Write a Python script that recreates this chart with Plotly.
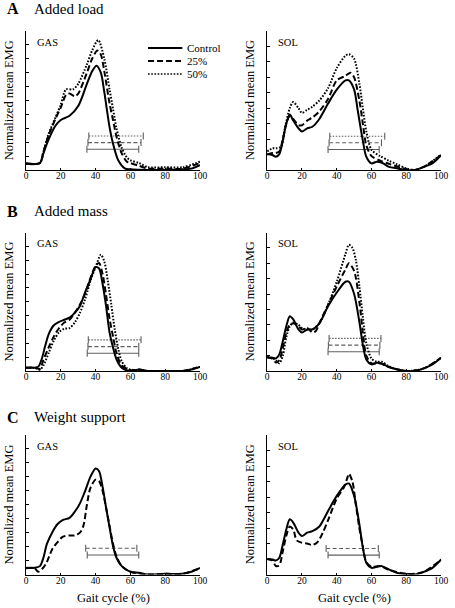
import plotly.graph_objects as go

# ---------------- data ----------------
X_TICKS = [0, 20, 40, 60, 80, 100]
CONDITIONS = ["Control", "25%", "50%"]
PANEL_TITLES = [("A", "Added load"), ("B", "Added mass"), ("C", "Weight support")]
MUSCLES = ["GAS", "SOL"]

# A - Added load, GAS
A_GAS_CTRL_X = [0, 5, 8, 10, 13, 17, 20, 25, 30, 35, 38, 40.5, 43, 45, 48, 50, 53, 57, 60, 70, 80, 90, 95, 100]
A_GAS_CTRL_Y = [0.48, 0.43, 0.5, 1.2, 2.2, 3.2, 3.6, 3.9, 4.6, 6.2, 7.1, 7.5, 7.0, 5.6, 3.1, 1.9, 0.7, 0.1, 0.05, 0, 0, 0.05, 0.1, 0.35]
A_GAS_25_X = [0, 8, 10, 13, 17, 20, 23, 25, 28, 30, 35, 38, 41, 43, 45, 48, 50, 52, 55, 58, 60, 65, 70, 80, 90, 100]
A_GAS_25_Y = [0.45, 0.5, 1.3, 2.5, 3.7, 4.5, 5.4, 5.5, 5.3, 5.5, 7.0, 8.0, 8.6, 8.3, 7.1, 4.8, 3.6, 2.4, 1.2, 0.6, 0.5, 0.3, 0.1, 0.1, 0.1, 0.5]
A_GAS_50_X = [0, 8, 10, 13, 17, 20, 23, 27, 30, 35, 38, 41.5, 45, 48, 50, 52, 55, 58, 60, 65, 70, 80, 90, 100]
A_GAS_50_Y = [0.45, 0.5, 1.3, 2.6, 3.8, 4.7, 5.8, 5.8, 6.2, 7.6, 8.6, 9.35, 8.0, 5.8, 4.4, 3.0, 1.6, 0.9, 0.7, 0.5, 0.2, 0.2, 0.2, 0.6]

# A - Added load, SOL
A_SOL_CTRL_X = [0, 3, 5, 7, 9, 11, 13, 15, 18, 20, 23, 26, 30, 35, 40, 45, 47, 50, 52, 55, 57, 60, 63, 66, 70, 75, 80, 85, 90, 95, 100]
A_SOL_CTRL_Y = [1.03, 0.97, 0.86, 1.03, 1.9, 3.0, 3.6, 3.2, 2.7, 2.5, 2.7, 2.8, 3.3, 4.3, 5.2, 5.8, 5.8, 5.2, 3.9, 1.9, 0.86, 0.43, 0.54, 0.47, 0.2, 0.1, 0, 0, 0.2, 0.43, 0.97]
A_SOL_25_X = [0, 3, 5, 7, 9, 11, 13, 15, 18, 20, 23, 26, 30, 35, 40, 45, 48, 50, 53, 55, 57, 60, 65, 70, 80, 85, 90, 100]
A_SOL_25_Y = [1.0, 1.1, 1.1, 1.2, 2.0, 3.0, 3.5, 3.3, 2.9, 2.9, 3.2, 3.4, 3.8, 4.6, 5.8, 6.1, 6.3, 6.0, 4.5, 3.0, 1.6, 0.9, 0.6, 0.4, 0.05, 0, 0.2, 0.97]
A_SOL_50_X = [0, 3, 5, 8, 10, 13, 15, 18, 20, 23, 26, 30, 35, 40, 45, 47, 50, 53, 55, 57, 60, 65, 70, 75, 80, 85, 90, 100]
A_SOL_50_Y = [1.2, 1.4, 1.4, 1.5, 2.6, 4.0, 4.4, 4.0, 3.7, 3.9, 4.1, 4.5, 5.3, 6.6, 7.4, 7.5, 7.2, 5.6, 4.0, 2.5, 1.3, 0.9, 0.6, 0.35, 0.1, 0, 0.2, 1.0]

# B - Added mass, GAS
B_GAS_CTRL_X = [0, 5, 7, 9, 11, 13, 16, 19, 22, 25, 28, 31, 34, 37, 40, 42, 44, 46, 48, 50, 52, 55, 60, 65, 70, 80, 90, 95, 100]
B_GAS_CTRL_Y = [0.24, 0.24, 0.3, 0.85, 1.8, 2.65, 3.3, 3.55, 3.7, 3.85, 4.2, 4.7, 5.7, 6.6, 7.5, 7.4, 6.3, 4.7, 2.8, 1.7, 0.85, 0.24, 0, 0.1, 0, 0, 0, 0.1, 0.3]
B_GAS_25_X = [0, 5, 8, 10, 13, 16, 19, 22, 25, 28, 31, 34, 37, 40, 42, 44, 46, 48, 50, 52, 55, 60, 65, 70, 80, 90, 100]
B_GAS_25_Y = [0.24, 0.24, 0.15, 0.8, 1.7, 2.5, 3.1, 3.5, 3.7, 4.2, 4.8, 5.6, 6.7, 7.6, 7.8, 7.0, 5.5, 3.8, 2.5, 1.3, 0.4, 0.05, 0.1, 0, 0, 0, 0.3]
B_GAS_50_X = [0, 5, 8, 10, 13, 16, 19, 22, 25, 28, 31, 34, 37, 40, 43, 45, 47, 49, 51, 53, 55, 58, 60, 70, 80, 90, 100]
B_GAS_50_Y = [0.24, 0.22, 0.1, 0.4, 1.3, 2.2, 2.8, 3.05, 3.1, 3.5, 4.2, 5.2, 6.5, 7.5, 8.4, 7.9, 6.5, 4.8, 3.0, 1.6, 0.7, 0.2, 0.1, 0, 0, 0, 0.3]

# B - Added mass, SOL
B_SOL_CTRL_X = [0, 3, 5, 7, 9, 11, 13, 15, 18, 20, 23, 26, 30, 35, 40, 45, 47, 50, 53, 55, 57, 60, 63, 66, 70, 75, 80, 85, 90, 95, 100]
B_SOL_CTRL_Y = [0.9, 0.86, 0.82, 1.08, 1.94, 2.9, 3.56, 3.35, 2.7, 2.5, 2.7, 2.7, 3.1, 4.2, 5.1, 5.8, 5.8, 5.0, 3.2, 1.7, 0.75, 0.43, 0.54, 0.47, 0.26, 0.1, 0, 0, 0.17, 0.43, 0.86]
B_SOL_25_X = [0, 3, 5, 7, 9, 11, 13, 15, 18, 20, 23, 26, 28, 30, 35, 40, 45, 47, 50, 53, 55, 57, 60, 65, 70, 80, 90, 100]
B_SOL_25_Y = [0.9, 0.8, 0.55, 0.7, 1.5, 2.5, 3.0, 3.1, 2.9, 2.7, 2.8, 2.5, 2.6, 3.1, 4.3, 5.5, 6.6, 7.0, 6.5, 4.5, 2.5, 1.0, 0.5, 0.5, 0.25, 0, 0.17, 0.86]
B_SOL_50_X = [0, 3, 5, 7, 9, 11, 13, 15, 18, 20, 23, 26, 30, 35, 40, 45, 47, 49, 51, 53, 55, 57, 60, 63, 66, 70, 80, 90, 100]
B_SOL_50_Y = [0.9, 0.85, 0.7, 0.5, 1.0, 2.2, 2.9, 3.15, 3.0, 2.8, 2.7, 2.7, 3.1, 4.3, 5.8, 7.6, 8.2, 8.0, 7.2, 5.5, 3.5, 1.8, 0.8, 0.6, 0.6, 0.3, 0, 0.17, 0.86]

# C - Weight support, GAS
C_GAS_CTRL_X = [0, 5, 8, 10, 12, 15, 18, 21, 25, 28, 31, 34, 37, 40, 42, 44, 46, 48, 50, 52, 55, 60, 65, 70, 80, 90, 95, 100]
C_GAS_CTRL_Y = [0.48, 0.48, 0.6, 1.2, 2.2, 3.0, 3.6, 3.9, 4.06, 4.5, 5.1, 6.0, 7.0, 7.6, 7.4, 6.3, 4.8, 3.4, 2.05, 1.2, 0.6, 0.2, 0.12, 0, 0.05, 0.05, 0.2, 0.48]
C_GAS_25_X = [0, 5, 7, 10, 12, 15, 18, 21, 25, 28, 31, 33, 35, 37, 40, 42, 44, 46, 48, 50, 52, 55, 60, 70, 80, 90, 100]
C_GAS_25_Y = [0.45, 0.45, 0.2, 0.5, 0.9, 1.8, 2.3, 2.7, 2.8, 2.8, 3.0, 3.5, 5.0, 6.2, 6.8, 6.7, 6.0, 4.8, 3.5, 2.2, 1.3, 0.6, 0.2, 0, 0.05, 0.05, 0.45]

# C - Weight support, SOL
C_SOL_CTRL_X = [0, 3, 5, 7, 9, 11, 13, 15, 18, 20, 23, 26, 30, 35, 40, 45, 47, 50, 53, 55, 57, 60, 63, 66, 70, 75, 80, 85, 90, 95, 100]
C_SOL_CTRL_Y = [1.0, 0.97, 0.9, 1.08, 1.94, 2.9, 3.56, 3.35, 2.7, 2.48, 2.7, 2.8, 3.1, 4.1, 5.07, 5.8, 5.87, 5.07, 3.24, 1.73, 0.76, 0.43, 0.5, 0.54, 0.32, 0.1, 0.04, 0, 0.17, 0.43, 0.97]
C_SOL_25_X = [0, 3, 5, 7, 9, 11, 13, 15, 17, 20, 23, 26, 29, 32, 35, 40, 44, 46, 47, 49, 51, 53, 55, 57, 60, 65, 70, 80, 90, 100]
C_SOL_25_Y = [1.0, 0.9, 0.55, 0.6, 1.5, 2.5, 3.1, 2.9, 2.2, 2.05, 2.0, 1.9, 2.1, 2.7, 3.5, 4.9, 5.6, 6.2, 6.5, 6.0, 4.5, 3.0, 1.8, 0.8, 0.5, 0.54, 0.3, 0.04, 0.17, 0.97]

# onset/offset bars: [start, end, level] for Control, 25%, 50%
A_GAS_BARS = [[35.0, 64.8, 1.49], [35.6, 66.1, 1.97], [36.1, 67.4, 2.45]]
A_SOL_BARS = [[35.0, 64.4, 1.33], [35.6, 65.7, 1.76], [36.0, 67.6, 2.19]]
B_GAS_BARS = [[35.2, 64.8, 1.28], [35.6, 64.8, 1.76], [35.8, 66.1, 2.25]]
B_SOL_BARS = [[35.0, 64.4, 1.25], [35.2, 64.8, 1.68], [35.6, 65.4, 2.12]]
C_GAS_BARS = [[35.2, 64.8, 1.40], [34.3, 63.7, 1.88]]
C_SOL_BARS = [[35.0, 64.4, 1.25], [33.9, 63.9, 1.68]]

# ---------------- figure ----------------
W, H = 455, 608
FONT = "Liberation Serif"
DASHES = {"Control": "solid", "25%": "6px,3px", "50%": "1.6px,1.6px"}
BAR_DASHES = {"Control": "solid", "25%": "4px,2.5px", "50%": "1.5px,1.5px"}
WIDTHS = {"Control": 2.0, "25%": 2.0, "50%": 2.0}
BAR_COLOR = "#5f5f5f"

panels = [
    ([(A_GAS_CTRL_X, A_GAS_CTRL_Y), (A_GAS_25_X, A_GAS_25_Y), (A_GAS_50_X, A_GAS_50_Y)], A_GAS_BARS, 10),
    ([(A_SOL_CTRL_X, A_SOL_CTRL_Y), (A_SOL_25_X, A_SOL_25_Y), (A_SOL_50_X, A_SOL_50_Y)], A_SOL_BARS, 9),
    ([(B_GAS_CTRL_X, B_GAS_CTRL_Y), (B_GAS_25_X, B_GAS_25_Y), (B_GAS_50_X, B_GAS_50_Y)], B_GAS_BARS, 10),
    ([(B_SOL_CTRL_X, B_SOL_CTRL_Y), (B_SOL_25_X, B_SOL_25_Y), (B_SOL_50_X, B_SOL_50_Y)], B_SOL_BARS, 9),
    ([(C_GAS_CTRL_X, C_GAS_CTRL_Y), (C_GAS_25_X, C_GAS_25_Y)], C_GAS_BARS, 10),
    ([(C_SOL_CTRL_X, C_SOL_CTRL_Y), (C_SOL_25_X, C_SOL_25_Y)], C_SOL_BARS, 9),
]

COLS = [(24.5, 202.0), (270.5, 448.0)]
ROWS = [(31.0, 170.0), (232.5, 371.0), (435.0, 574.5)]

fig = go.Figure()
layout = dict(
    width=W, height=H,
    margin=dict(l=0, r=0, t=0, b=0),
    paper_bgcolor="white", plot_bgcolor="white",
    showlegend=False,
    font=dict(family=FONT, color="black"),
)
annotations = []
shapes = []

for i, (curves, bars, ymax) in enumerate(panels):
    r, c = divmod(i, 2)
    idx = i + 1
    xa = "x" if idx == 1 else f"x{idx}"
    ya = "y" if idx == 1 else f"y{idx}"
    xl, xr = COLS[c]
    yt, yb = ROWS[r]
    layout["xaxis" if idx == 1 else f"xaxis{idx}"] = dict(
        domain=[xl / W, xr / W], range=[0, 100], anchor=ya,
        tickvals=X_TICKS, ticks="inside", ticklen=2, tickcolor="black",
        showline=True, linecolor="black", linewidth=1,
        showgrid=False, zeroline=False,
        ticklabeloverflow="allow", ticklabelstandoff=-3,
        tickfont=dict(family=FONT, size=9.5, color="black"),
    )
    layout["yaxis" if idx == 1 else f"yaxis{idx}"] = dict(
        domain=[1 - yb / H, 1 - yt / H], range=[0, ymax], anchor=xa,
        dtick=1, tick0=0, ticks="inside", ticklen=2.5, tickcolor="black",
        showticklabels=False,
        showline=True, linecolor="black", linewidth=1,
        showgrid=False, zeroline=False,
    )
    for k, (b0, b1, lev) in enumerate(bars):
        cond = CONDITIONS[k]
        fig.add_trace(go.Scatter(
            x=[b0, b1], y=[lev, lev], xaxis=xa, yaxis=ya,
            mode="lines+markers",
            line=dict(color=BAR_COLOR, width=1.1, dash=BAR_DASHES[cond]),
            marker=dict(symbol="line-ns-open", size=5, color=BAR_COLOR,
                        line=dict(color=BAR_COLOR, width=1.1)),
            hoverinfo="skip",
        ))
    for k, (xs, ys) in enumerate(curves):
        cond = CONDITIONS[k]
        fig.add_trace(go.Scatter(
            x=xs, y=ys, xaxis=xa, yaxis=ya, mode="lines", name=cond,
            line=dict(color="black", width=WIDTHS[cond], dash=DASHES[cond],
                      shape="spline", smoothing=0.8),
        ))
    annotations.append(dict(
        text=MUSCLES[c], xref=f"{xa} domain", yref=f"{ya} domain",
        x=0.125 if c == 0 else 0.12, y=0.92, xanchor="center", yanchor="middle",
        showarrow=False, font=dict(family=FONT, size=10.5),
    ))
    annotations.append(dict(
        text="Normalized mean EMG", xref="paper", yref="paper",
        x=(7.0 if c == 0 else 252.5) / W, y=1 - ((yt + yb) / 2) / H,
        textangle=-90, xanchor="center", yanchor="middle",
        showarrow=False, font=dict(family=FONT, size=12.5),
    ))

TITLE_Y = [9.0, 211.0, 417.0]
for r, (letter, title) in enumerate(PANEL_TITLES):
    annotations.append(dict(
        text=f"<b>{letter}</b>", xref="paper", yref="paper",
        x=3.5 / W, y=1 - TITLE_Y[r] / H, xanchor="left", yanchor="middle",
        showarrow=False, font=dict(family=FONT, size=16),
    ))
    annotations.append(dict(
        text=title, xref="paper", yref="paper",
        x=31.0 / W, y=1 - TITLE_Y[r] / H, xanchor="left", yanchor="middle",
        showarrow=False, font=dict(family=FONT, size=15),
    ))

for c in range(2):
    xl, xr = COLS[c]
    annotations.append(dict(
        text="Gait cycle (%)", xref="paper", yref="paper",
        x=((xl + xr) / 2) / W, y=1 - 598.0 / H, xanchor="center", yanchor="middle",
        showarrow=False, font=dict(family=FONT, size=12.5),
    ))

LEG_Y = [48.0, 61.0, 74.0]
for k, cond in enumerate(CONDITIONS):
    py = LEG_Y[k]
    shapes.append(dict(
        type="line", xref="paper", yref="paper",
        x0=149.0 / W, x1=184.0 / W, y0=1 - py / H, y1=1 - py / H,
        line=dict(color="black", width=2.0 if cond != "50%" else 1.6, dash=DASHES[cond]),
    ))
    annotations.append(dict(
        text=cond, xref="paper", yref="paper",
        x=187.0 / W, y=1 - py / H, xanchor="left", yanchor="middle",
        showarrow=False, font=dict(family=FONT, size=11),
    ))

layout["annotations"] = annotations
layout["shapes"] = shapes
fig.update_layout(**layout)
fig.write_html(
    "out.html",
    config={"displayModeBar": False, "staticPlot": True},
    post_script="document.body.style.margin='0px';document.body.style.overflow='hidden';",
)
